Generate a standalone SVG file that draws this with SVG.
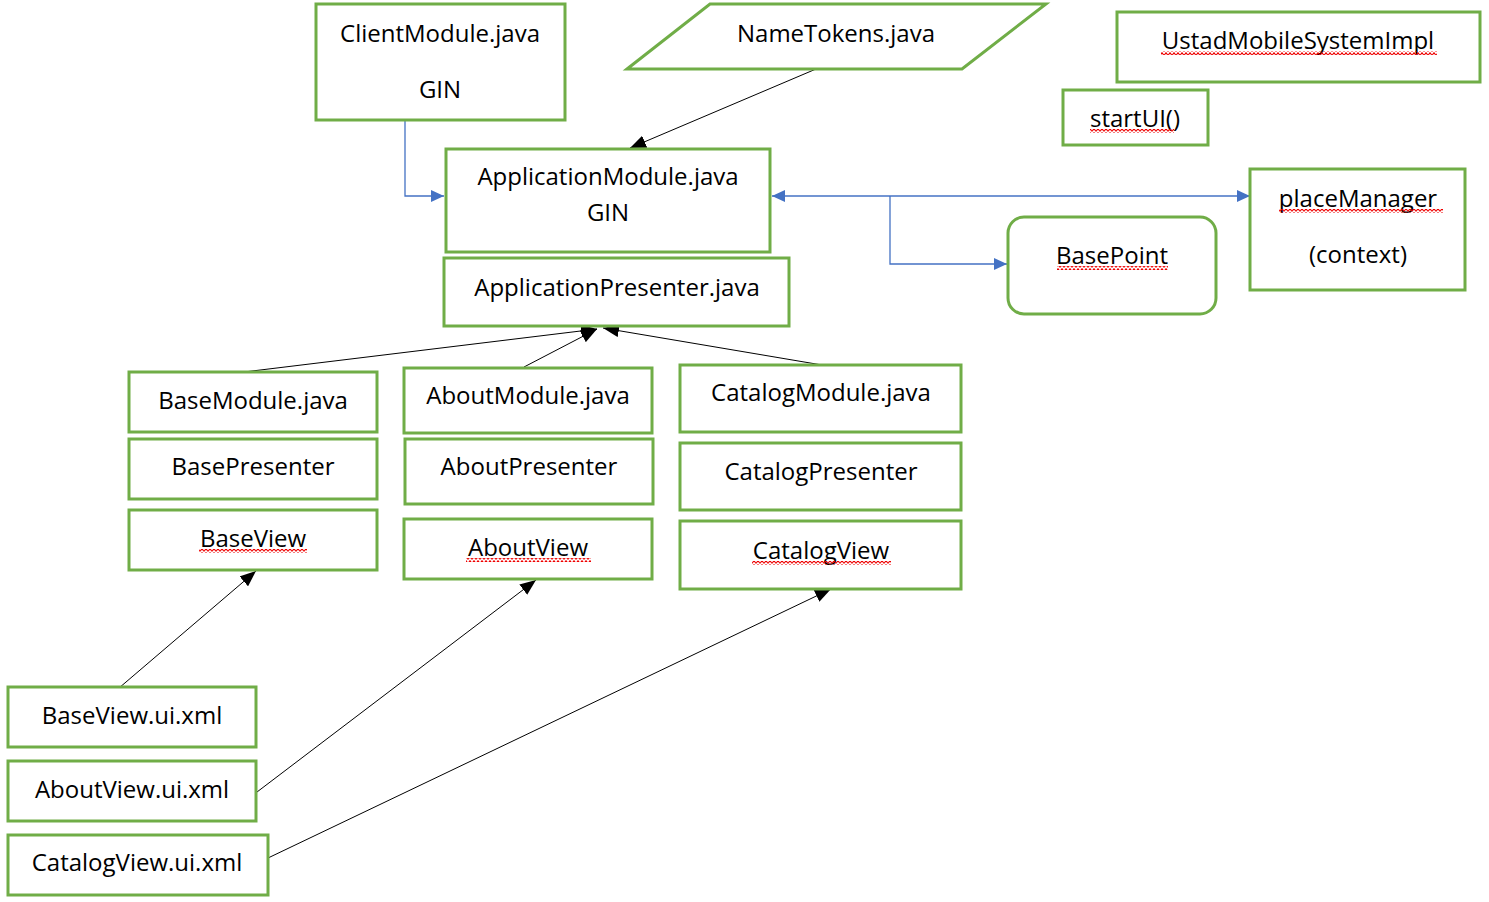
<svg xmlns="http://www.w3.org/2000/svg" width="1489" height="902" viewBox="0 0 1489 902">
<defs>
<style>
.box{fill:#fff;stroke:#70AD47;stroke-width:3}
.t{font-family:"Open Sans","Liberation Sans",sans-serif;font-size:24px;fill:#000;text-anchor:middle}
.blk{fill:none;stroke:#000;stroke-width:1}
.blu{fill:none;stroke:#4472C4;stroke-width:1.3}
.sq{fill:url(#squig)}
</style>
<marker id="ab" viewBox="0 0 16 13" refX="16" refY="6.5" markerWidth="16" markerHeight="13" markerUnits="userSpaceOnUse" orient="auto-start-reverse">
<path d="M0,0 L16,6.5 L0,13 z" fill="#000"/>
</marker>
<marker id="au" viewBox="0 0 13 12" refX="13" refY="6" markerWidth="13" markerHeight="12" markerUnits="userSpaceOnUse" orient="auto-start-reverse">
<path d="M0,0 L13,6 L0,12 z" fill="#4472C4"/>
</marker>
<pattern id="squig" width="4" height="4" patternUnits="userSpaceOnUse">
<path d="M0,3.3 L2,0.7 L4,3.3" fill="none" stroke="#E00" stroke-width="1.1"/>
</pattern>
</defs>
<rect width="1489" height="902" fill="#fff"/>

<g id="connectors">
<path class="blu" d="M366,120 H405 V196 H444" marker-end="url(#au)"/>
<path class="blu" d="M772,196 H1250" marker-start="url(#au)" marker-end="url(#au)"/>
<path class="blu" d="M890,196 V264 H1007" marker-end="url(#au)"/>
<path class="blk" d="M816,69 L630,148" marker-end="url(#ab)"/>
<path class="blk" d="M244,372 L597,329" marker-end="url(#ab)"/>
<path class="blk" d="M524,367 L597,329" marker-end="url(#ab)"/>
<path class="blk" d="M822,365 L603,328" marker-end="url(#ab)"/>
<path class="blk" d="M119,688 L256,571" marker-end="url(#ab)"/>
<path class="blk" d="M257,792 L536,580" marker-end="url(#ab)"/>
<path class="blk" d="M268,858 L831,589" marker-end="url(#ab)"/>
</g>

<g id="clientModule">
<rect class="box" x="316" y="4" width="249" height="116"/>
<text class="t" x="440" y="42">ClientModule.java</text>
<text class="t" x="440" y="98">GIN</text>
</g>
<g id="nameTokens">
<polygon class="box" points="627,69 710,4 1046,4 962,69"/>
<text class="t" x="836" y="42">NameTokens.java</text>
</g>
<g id="ustad">
<rect class="box" x="1117" y="12" width="363" height="70"/>
<text class="t" x="1298" y="49">UstadMobileSystemImpl</text>
<rect class="sq" x="1161" y="51" width="276" height="4"/>
</g>
<g id="startUI">
<rect class="box" x="1063" y="90" width="145" height="55"/>
<text class="t" x="1135" y="127">startUI()</text>
<rect class="sq" x="1090" y="129" width="84" height="4"/>
</g>
<g id="applicationModule">
<rect class="box" x="446" y="149" width="324" height="103"/>
<text class="t" x="608" y="185">ApplicationModule.java</text>
<text class="t" x="608" y="221">GIN</text>
</g>
<g id="applicationPresenter">
<rect class="box" x="444" y="258" width="345" height="68"/>
<text class="t" x="617" y="296">ApplicationPresenter.java</text>
</g>
<g id="placeManager">
<rect class="box" x="1250" y="169" width="215" height="121"/>
<text class="t" x="1358" y="207">placeManager</text>
<rect class="sq" x="1279" y="209" width="164" height="4"/>
<text class="t" x="1358" y="263">(context)</text>
</g>
<g id="basePoint">
<rect class="box" x="1008" y="217" width="208" height="97" rx="16"/>
<text class="t" x="1112" y="264">BasePoint</text>
<rect class="sq" x="1057" y="266" width="111" height="4"/>
</g>

<g id="baseModule">
<rect class="box" x="129" y="372" width="248" height="60"/>
<text class="t" x="253" y="409">BaseModule.java</text>
</g>
<g id="basePresenter">
<rect class="box" x="129" y="439" width="248" height="60"/>
<text class="t" x="253" y="475">BasePresenter</text>
</g>
<g id="baseView">
<rect class="box" x="129" y="510" width="248" height="60"/>
<text class="t" x="253" y="547">BaseView</text>
<rect class="sq" x="199" y="549" width="108" height="4"/>
</g>

<g id="aboutModule">
<rect class="box" x="404" y="368" width="248" height="65"/>
<text class="t" x="528" y="404">AboutModule.java</text>
</g>
<g id="aboutPresenter">
<rect class="box" x="405" y="439" width="248" height="65"/>
<text class="t" x="529" y="475">AboutPresenter</text>
</g>
<g id="aboutView">
<rect class="box" x="404" y="519" width="248" height="60"/>
<text class="t" x="528" y="556">AboutView</text>
<rect class="sq" x="466" y="558" width="125" height="4"/>
</g>

<g id="catalogModule">
<rect class="box" x="680" y="365" width="281" height="67"/>
<text class="t" x="821" y="401">CatalogModule.java</text>
</g>
<g id="catalogPresenter">
<rect class="box" x="680" y="443" width="281" height="67"/>
<text class="t" x="821" y="480">CatalogPresenter</text>
</g>
<g id="catalogView">
<rect class="box" x="680" y="521" width="281" height="68"/>
<text class="t" x="821" y="559">CatalogView</text>
<rect class="sq" x="752" y="561" width="139" height="4"/>
</g>

<g id="baseViewXml">
<rect class="box" x="8" y="687" width="248" height="60"/>
<text class="t" x="132" y="724">BaseView.ui.xml</text>
</g>
<g id="aboutViewXml">
<rect class="box" x="8" y="761" width="248" height="60"/>
<text class="t" x="132" y="798">AboutView.ui.xml</text>
</g>
<g id="catalogViewXml">
<rect class="box" x="8" y="835" width="260" height="60"/>
<text class="t" x="137" y="871">CatalogView.ui.xml</text>
</g>
</svg>
